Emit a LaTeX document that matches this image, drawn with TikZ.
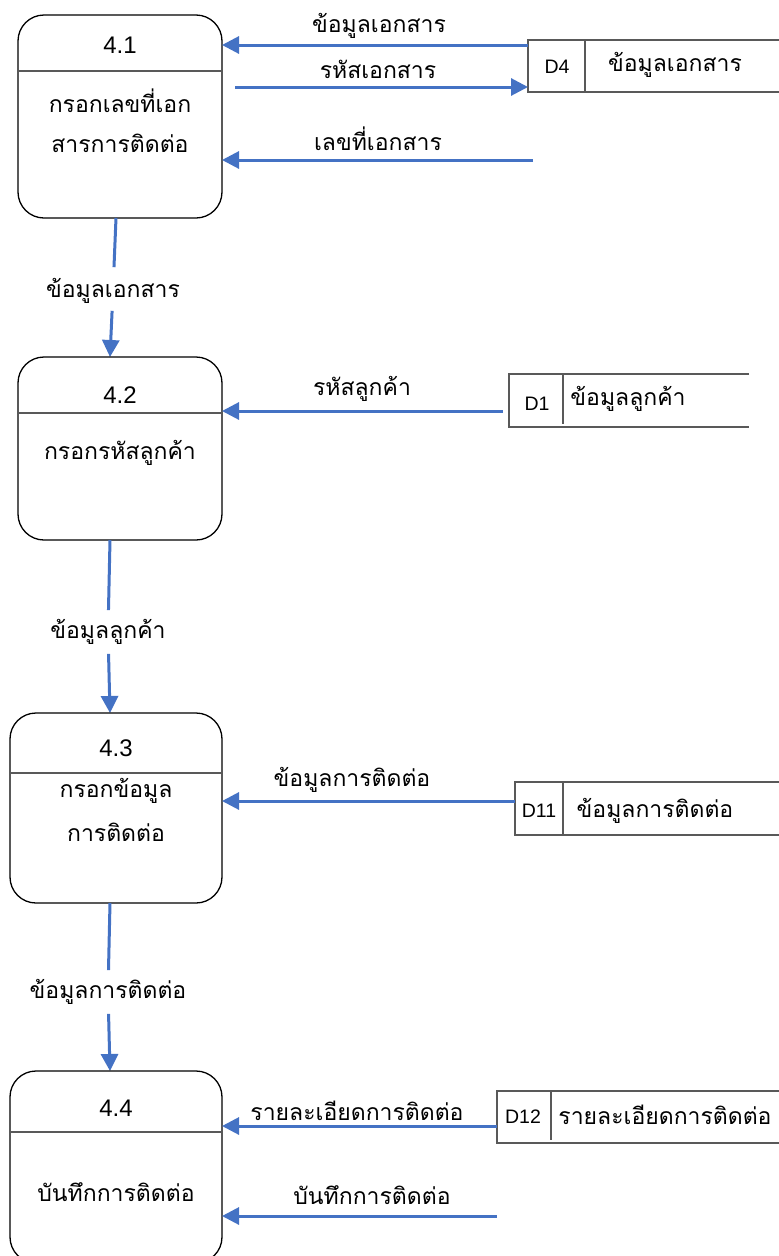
\documentclass[tikz,border=0pt]{standalone}
\usepackage{fontspec}
\setmainfont{Liberation Sans}
\newfontfamily\thaifont[Script=Thai]{Loma}
\usetikzlibrary{arrows.meta}
\definecolor{flowblue}{HTML}{4472C4}
\definecolor{rulegray}{HTML}{595959}
\begin{document}
\begin{tikzpicture}[x=1pt,y=-1pt,
  proc/.style={draw=black, line width=1.3pt, rounded corners=26pt, anchor=north west,
    inner sep=0pt, outer sep=0pt},
  divider/.style={draw=rulegray, line width=1.6pt},
  storebox/.style={anchor=north west, inner sep=0pt, outer sep=0pt},
  storeline/.style={draw=rulegray, line width=1.6pt},
  flow/.style={draw=flowblue, line width=3pt, -{Triangle[length=17pt,width=17pt]}},
  plainflow/.style={draw=flowblue, line width=3pt},
  lbl/.style={font=\thaifont\fontsize{23}{27}\selectfont, inner sep=1pt},
  num/.style={font=\fontsize{24}{28}\selectfont, inner sep=1pt},
  sid/.style={font=\fontsize{19.5}{23}\selectfont, inner sep=1pt}]
\useasboundingbox (0,0) rectangle (779,1256);
\clip (0,0) rectangle (779,1256);

% ---------- process 4.1 ----------
\node[proc, minimum width=204pt, minimum height=203pt] (p41) at (18,15) {};
\draw[divider] (18,71) -- (222,71);
\node[num] (n41) at (120,45) {4.1};
\node[lbl] (t41a) at (120,101) {กรอกเลขที่เอก};
\node[lbl] (t41b) at (120,143) {สารการติดต่อ};

% data store D4
\node[storebox, minimum width=251pt, minimum height=52pt] (d4) at (528,40) {};
\draw[storeline] (d4.north east) -- (d4.north west) -- (d4.south west) -- (d4.south east);
\draw[storeline] (585,40) -- (585,92);
\node[sid] (d4id) at (557,67) {D4};
\node[lbl] (d4name) at (675,65) {ข้อมูลเอกสาร};

\coordinate (a1) at (528,45);
\draw[flow] (a1) -- (a1 -| p41.east);
\node[lbl] (l1) at (379,26) {ข้อมูลเอกสาร};
\coordinate (a2) at (235,87);
\draw[flow] (a2) -- (a2 -| d4.west);
\node[lbl] (l2) at (378,69) {รหัสเอกสาร};
\coordinate (a3) at (533,160);
\draw[flow] (a3) -- (a3 -| p41.east);
\node[lbl] (l3) at (378,139) {เลขที่เอกสาร};

% flow 4.1 -> 4.2
\coordinate (s1) at (116,218);
\coordinate (e1) at (110,357);
\node[lbl] (f1) at (113,291) {ข้อมูลเอกสาร};
\draw[plainflow, shorten >=10pt] (s1) -- (f1);
\draw[flow, shorten <=6pt] (f1) -- (e1);

% ---------- process 4.2 ----------
\node[proc, minimum width=204pt, minimum height=183pt] (p42) at (18,357) {};
\draw[divider] (18,413) -- (222,413);
\node[num] (n42) at (120,395) {4.2};
\node[lbl] (t42) at (120,453) {กรอกรหัสลูกค้า};

% data store D1
\node[storebox, minimum width=240pt, minimum height=53pt] (d1) at (509,374) {};
\draw[storeline] (d1.north east) -- (d1.north west) -- (d1.south west) -- (d1.south east);
\draw[storeline] (563,374) -- (563,424);
\node[sid] (d1id) at (537,404) {D1};
\node[lbl] (d1name) at (628,399) {ข้อมูลลูกค้า};

\coordinate (a4) at (503,411);
\draw[flow] (a4) -- (a4 -| p42.east);
\node[lbl] (l4) at (362,389) {รหัสลูกค้า};

% flow 4.2 -> 4.3
\coordinate (s2) at (110,540);
\coordinate (e2) at (110,713);
\node[lbl] (f2) at (108,632) {ข้อมูลลูกค้า};
\draw[plainflow, shorten >=8pt] (s2) -- (f2);
\draw[flow, shorten <=8pt] (f2) -- (e2);

% ---------- process 4.3 ----------
\node[proc, minimum width=212pt, minimum height=190pt] (p43) at (10,713) {};
\draw[divider] (10,773) -- (222,773);
\node[num] (n43) at (116,748) {4.3};
\node[lbl] (t43a) at (116,791) {กรอกข้อมูล};
\node[lbl] (t43b) at (116,832) {การติดต่อ};

% data store D11
\node[storebox, minimum width=264pt, minimum height=53pt] (d11) at (515,782) {};
\draw[storeline] (d11.north east) -- (d11.north west) -- (d11.south west) -- (d11.south east);
\draw[storeline] (563,782) -- (563,835);
\node[sid] (d11id) at (539,811) {D11};
\node[lbl] (d11name) at (655,811) {ข้อมูลการติดต่อ};

\coordinate (a5) at (515,801);
\draw[flow] (a5) -- (a5 -| p43.east);
\node[lbl] (l5) at (352,780) {ข้อมูลการติดต่อ};

% flow 4.3 -> 4.4
\coordinate (s3) at (110,903);
\coordinate (e3) at (110,1071);
\node[lbl] (f3) at (108,992) {ข้อมูลการติดต่อ};
\draw[plainflow, shorten >=8pt] (s3) -- (f3);
\draw[flow, shorten <=8pt] (f3) -- (e3);

% ---------- process 4.4 ----------
\node[proc, minimum width=212pt, minimum height=192pt] (p44) at (10,1071) {};
\draw[divider] (10,1132) -- (222,1132);
\node[num] (n44) at (116,1108) {4.4};
\node[lbl] (t44) at (116,1192) {บันทึกการติดต่อ};

% data store D12
\node[storebox, minimum width=282pt, minimum height=52pt] (d12) at (497,1091) {};
\draw[storeline] (d12.north east) -- (d12.north west) -- (d12.south west) -- (d12.south east);
\draw[storeline] (551,1091) -- (551,1140);
\node[sid] (d12id) at (523,1117) {D12};
\node[lbl] (d12name) at (665,1115) {รายละเอียดการติดต่อ};

\coordinate (a6) at (497,1126);
\draw[flow] (a6) -- (a6 -| p44.east);
\node[lbl] (l6) at (357,1111) {รายละเอียดการติดต่อ};
\coordinate (a7) at (497,1216);
\draw[flow] (a7) -- (a7 -| p44.east);
\node[lbl] (l7) at (372,1195) {บันทึกการติดต่อ};
\end{tikzpicture}
\end{document}
